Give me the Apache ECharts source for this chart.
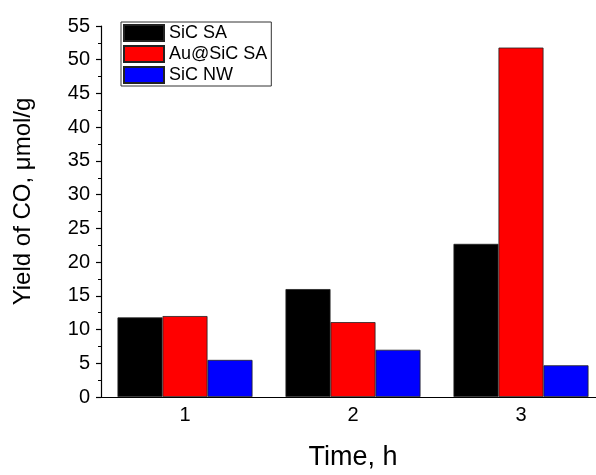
<!DOCTYPE html>
<html><head><meta charset="utf-8">
<script src="https://cdn.jsdelivr.net/npm/echarts@6/dist/echarts.min.js"></script>
<style>html,body{margin:0;padding:0;background:#fff;overflow:hidden}#c{width:596px;height:475px}</style>
</head><body><div id="c"></div>
<script>
const categories = ['1', '2', '3'];
const sicSA = [11.8, 16.0, 22.7];
const auSicSA = [12.0, 11.1, 51.8];
const sicNW = [5.5, 7.0, 4.7];
const yTicks = {min: 0, max: 55, interval: 5};

const font = 'Liberation Sans, Arial, sans-serif';
const chart = echarts.init(document.getElementById('c'));
const mk = (name, data, color) => ({
  name, type: 'bar', data, barWidth: 45, barGap: '0%',
  itemStyle: {color, borderColor: '#222', borderWidth: 0.8}
});
chart.setOption({
  animation: false,
  textStyle: {fontFamily: font},
  grid: {left: 101, top: 26, bottom: 78, right: -9, containLabel: false, outerBoundsMode: 'none'},
  legend: {
    orient: 'vertical', left: 121, top: 22, itemWidth: 40, itemHeight: 16, itemGap: 3,
    padding: [2, 4, 2, 2], borderColor: '#333', borderWidth: 1, icon: 'rect',
    textStyle: {fontSize: 18, color: '#000', fontFamily: font},
    data: ['SiC SA', 'Au@SiC SA', 'SiC NW']
  },
  xAxis: {
    type: 'category', data: categories,
    name: 'Time, h', nameLocation: 'middle', nameGap: 47,
    nameTextStyle: {fontSize: 27, color: '#000', fontFamily: font, verticalAlign: 'top'},
    axisLine: {lineStyle: {color: '#000', width: 1.2}},
    axisTick: {alignWithLabel: true, length: 5, lineStyle: {color: '#000', width: 1.2}},
    axisLabel: {fontSize: 20, color: '#000', margin: 8, fontFamily: font}
  },
  yAxis: {
    type: 'value', min: yTicks.min, max: yTicks.max, interval: yTicks.interval,
    name: 'Yield of CO, μmol/g', nameLocation: 'middle', nameGap: 66, nameRotate: 90,
    nameTextStyle: {fontSize: 24, color: '#000', fontFamily: font, padding: [0, 0, 0, 20]},
    axisLine: {show: true, lineStyle: {color: '#000', width: 1.2}},
    axisTick: {show: true, length: 5, lineStyle: {color: '#000', width: 1.2}},
    minorTick: {show: true, splitNumber: 2, length: 3, lineStyle: {color: '#000', width: 1}},
    splitLine: {show: false},
    axisLabel: {fontSize: 20, color: '#000', margin: 11, fontFamily: font}
  },
  series: [
    mk('SiC SA', sicSA, '#000000'),
    mk('Au@SiC SA', auSicSA, '#ff0000'),
    mk('SiC NW', sicNW, '#0000ff')
  ]
});
</script></body></html>
